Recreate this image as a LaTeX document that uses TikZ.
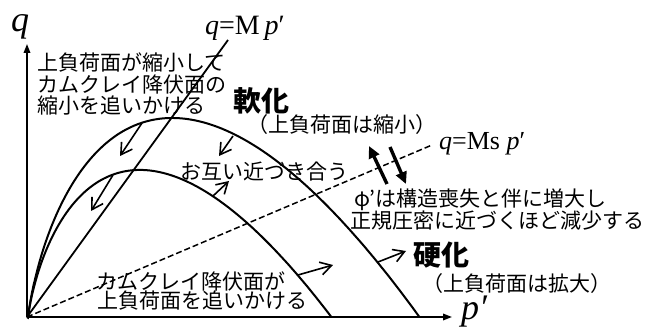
\documentclass[tikz,border=0pt]{standalone}
\usepackage{fontspec}
\setmainfont{Liberation Serif}
\newfontfamily\jp{Noto Sans CJK JP}
\usetikzlibrary{arrows.meta}
\tikzset{
  curve/.style={line width=2pt},
  thinarr/.style={line width=1.6pt,-{Straight Barb[length=11pt,width=13pt]}},
  thickarr/.style={line width=3.4pt,-{Triangle[length=12pt,width=11pt]}},
  axis/.style={line width=1.7pt,-{Triangle[length=9pt,width=6.5pt]}},
  jptext/.style={font=\fontsize{21}{22}\selectfont\jp, inner sep=0pt, anchor=west},
  jpbold/.style={font=\fontsize{28}{30}\selectfont\jp\bfseries, inner sep=0pt, anchor=west},
  latin/.style={inner sep=0pt, anchor=base west}
}
\begin{document}
\begin{tikzpicture}[x=1pt,y=-1pt]
\useasboundingbox (0,0) rectangle (662,336);
% axes
\coordinate (O) at (27,317);
\coordinate (Ytip) at (27,44);
\coordinate (Xtip) at (452,317);
\draw[axis] (O) -- (Ytip);
\draw[axis] (O) -- (Xtip);
\node[latin, font=\fontsize{36}{36}\selectfont\itshape] (qlab) at (11,31.5) {q};
\node[latin, font=\fontsize{36}{36}\selectfont\itshape] (plab) at (461,319.5) {p′};
% yield surfaces (Cam-clay shape)
\draw[curve] (O) -- plot[domain=0.01:1, samples=150, variable=\t]
  ({28+304*\t*\t}, {318+805*\t*\t*ln(\t)});
\draw[curve] (O) -- plot[domain=0.01:1, samples=150, variable=\t]
  ({28+392*\t*\t}, {318+1087.4*\t*\t*ln(\t)});
% critical state line and Ms line
\coordinate (Mtop) at (228,40);
\draw[line width=1.8pt] (O) -- (Mtop);
\coordinate (Msend) at (432,145);
\draw[line width=1.5pt, dash pattern=on 6pt off 3pt] (O) -- (Msend);
\node[latin, font=\fontsize{28}{28}\selectfont] (Mlab) at (205,35) {\textit{q}=M\,\textit{p}′};
\node[latin, font=\fontsize{26}{26}\selectfont] (Mslab) at (439,150) {\textit{q}=Ms \textit{p}′};
% thin arrows
\coordinate (a1s) at (142,123); \coordinate (a1e) at (120,156);
\coordinate (a2s) at (233,136); \coordinate (a2e) at (219,156);
\coordinate (a3s) at (213,196); \coordinate (a3e) at (229,181);
\coordinate (a5s) at (113,175); \coordinate (a5e) at (91,211);
\coordinate (a6s) at (298,275); \coordinate (a6e) at (333,265);
\coordinate (a7s) at (378,262); \coordinate (a7e) at (406,251);
\draw[thinarr] (a1s) -- (a1e);
\draw[thinarr] (a2s) -- (a2e);
\draw[thinarr] (a3s) -- (a3e);
\draw[thinarr] (a5s) -- (a5e);
\draw[thinarr] (a6s) -- (a6e);
\draw[thinarr] (a7s) -- (a7e);
% thick arrows
\coordinate (b1s) at (387,184); \coordinate (b1e) at (369,146);
\coordinate (b2s) at (390,147); \coordinate (b2e) at (406,184);
\draw[thickarr] (b1s) -- (b1e);
\draw[thickarr] (b2s) -- (b2e);
% texts
\node[jptext] (t1) at (37,62.5) {上負荷面が縮小して};
\node[jptext] (t2) at (37,84.5) {カムクレイ降伏面の};
\node[jptext] (t3) at (37,106) {縮小を追いかける};
\node[jpbold] (soft) at (233,101) {軟化};
\node[jptext] (soft2) at (247,124.5) {（上負荷面は縮小）};
\node[jptext] (near) at (180,172) {お互い近づき合う};
\node[jptext] (phi1) at (354,200) {φ’は構造喪失と伴に増大し};
\node[jptext] (phi2) at (350,221) {正規圧密に近づくほど減少する};
\node[jpbold] (hard) at (413,255.5) {硬化};
\node[jptext] (hard2) at (422,283.5) {（上負荷面は拡大）};
\node[jptext] (c1) at (96,281) {カムクレイ降伏面が};
\node[jptext] (c2) at (97,301) {上負荷面を追いかける};
\end{tikzpicture}
\end{document}
